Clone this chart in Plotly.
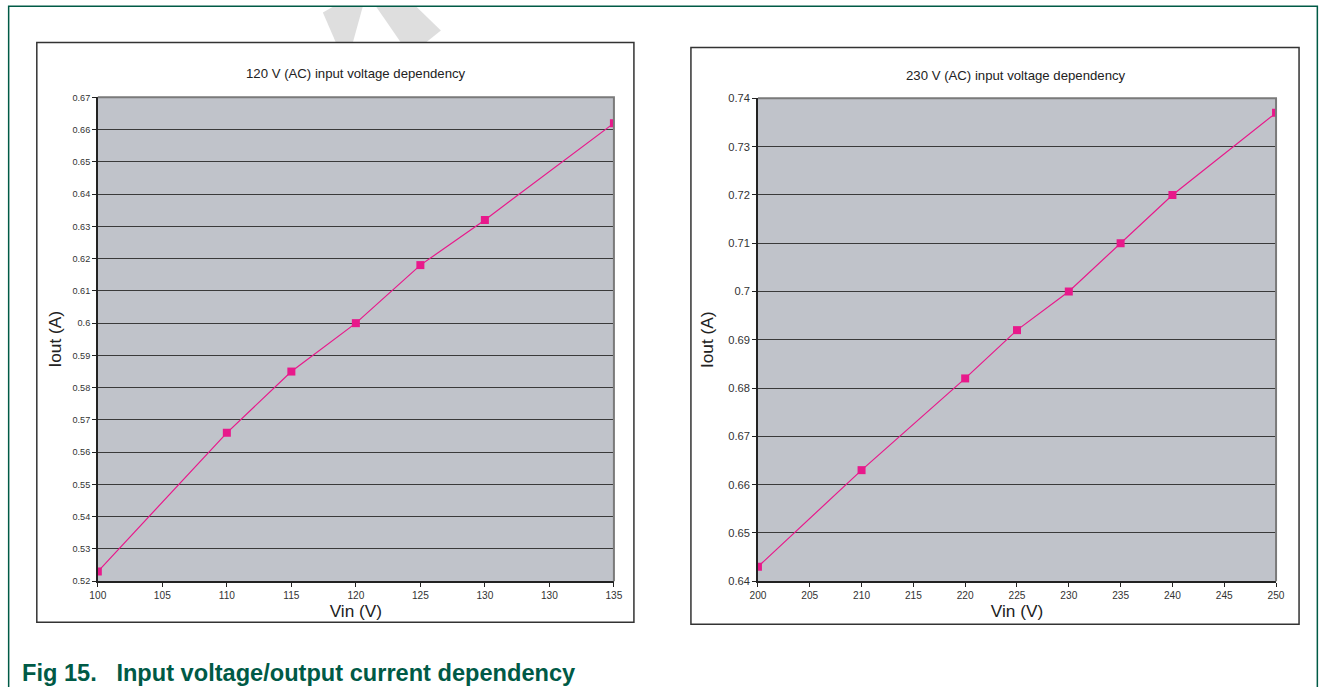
import plotly.graph_objects as go

W, H = 1327, 693

# ---- data ----
left_tick_vals = [100, 105, 110, 115, 120, 125, 130, 135, 140]
left_tick_labels = ["100", "105", "110", "115", "120", "125", "130", "130", "135"]
left_vin = [100, 110, 115, 120, 125, 130, 140]   # positions on the (quirky) axis
left_iout = [0.523, 0.566, 0.585, 0.600, 0.618, 0.632, 0.662]
left_y_ticks = [0.52, 0.53, 0.54, 0.55, 0.56, 0.57, 0.58, 0.59, 0.60, 0.61,
                0.62, 0.63, 0.64, 0.65, 0.66, 0.67]
left_y_labels = ["0.52", "0.53", "0.54", "0.55", "0.56", "0.57", "0.58", "0.59",
                 "0.6", "0.61", "0.62", "0.63", "0.64", "0.65", "0.66", "0.67"]

right_tick_vals = [200, 205, 210, 215, 220, 225, 230, 235, 240, 245, 250]
right_vin = [200, 210, 220, 225, 230, 235, 240, 250]
right_iout = [0.643, 0.663, 0.682, 0.692, 0.700, 0.710, 0.720, 0.737]
right_y_ticks = [0.64, 0.65, 0.66, 0.67, 0.68, 0.69, 0.70, 0.71, 0.72, 0.73, 0.74]
right_y_labels = ["0.64", "0.65", "0.66", "0.67", "0.68", "0.69", "0.7", "0.71",
                  "0.72", "0.73", "0.74"]

title_left = "120 V (AC) input voltage dependency"
title_right = "230 V (AC) input voltage dependency"
caption = "Fig 15.   Input voltage/output current dependency"

PINK = "#e8198b"
PLOT_BG = "#c0c3ca"
GRID = "#3a3a3a"
FONT = "Liberation Sans, Arial, sans-serif"
GREEN = "#005a46"

# compensation for how the page gets photographed
SX, OX = 0.987, 7.2
SY, OY = 0.983, 5.6
FS = 1 / 0.985


def px(x):
    v = (x - OX) / SX / W
    return min(max(v, 0.0005), 0.9995)


def py(y):
    v = 1 - (y - OY) / SY / H
    return min(max(v, 0.0005), 0.9995)


fig = go.Figure()
fig.add_trace(go.Scatter(x=left_vin, y=left_iout, mode="lines+markers",
                         line=dict(color=PINK, width=1.2),
                         marker=dict(symbol="square", size=8, color=PINK),
                         xaxis="x", yaxis="y", showlegend=False))
fig.add_trace(go.Scatter(x=right_vin, y=right_iout, mode="lines+markers",
                         line=dict(color=PINK, width=1.2),
                         marker=dict(symbol="square", size=8, color=PINK),
                         xaxis="x2", yaxis="y2", showlegend=False))

# plot areas (reference pixel positions)
L = dict(x0=97, x1=613, y0=97, y1=581)
R = dict(x0=757, x1=1275, y0=98, y1=581)

common_x = dict(showgrid=False, zeroline=False, showline=True, linecolor="#222",
                linewidth=1.5, ticks="outside", ticklen=4, tickcolor="#222",
                tickfont=dict(family=FONT, size=10 * FS, color="#333"),
                title_font=dict(family=FONT, size=17 * FS, color="#222"), title_standoff=3)
common_y = dict(showgrid=True, gridcolor=GRID, gridwidth=1, zeroline=False,
                showline=True, linecolor="#222", linewidth=1.5, ticks="outside",
                ticklen=4, tickcolor="#222",
                title_font=dict(family=FONT, size=17 * FS, color="#222"))

fig.update_layout(
    width=W, height=H, margin=dict(l=0, r=0, t=0, b=0),
    paper_bgcolor="white", plot_bgcolor=PLOT_BG,
    xaxis=dict(domain=[px(L["x0"]), px(L["x1"])], range=[100, 140],
               tickmode="array", tickvals=left_tick_vals, ticktext=left_tick_labels,
               title_text="Vin (V)", anchor="y", **common_x),
    yaxis=dict(domain=[py(L["y1"]), py(L["y0"])], range=[0.52, 0.67],
               tickmode="array", tickvals=left_y_ticks, ticktext=left_y_labels,
               tickfont=dict(family=FONT, size=9 * FS, color="#333"), title_standoff=6,
               title_text="Iout (A)", anchor="x", **common_y),
    xaxis2=dict(domain=[px(R["x0"]), px(R["x1"])], range=[200, 250],
                tickmode="array", tickvals=right_tick_vals,
                title_text="Vin (V)", anchor="y2", **common_x),
    yaxis2=dict(domain=[py(R["y1"]), py(R["y0"])], range=[0.64, 0.74],
                tickmode="array", tickvals=right_y_ticks, ticktext=right_y_labels,
                tickfont=dict(family=FONT, size=11 * FS, color="#333"), title_standoff=10,
                title_text="Iout (A)", anchor="x2", **common_y),
)

shapes = []
# faint watermark fragment (decoration)
shapes.append(dict(type="path", xref="paper", yref="paper",
                   path=f"M {px(322)} {py(12)} L {px(333)} {py(0)} L {px(362)} {py(0)} L {px(352)} {py(42)} L {px(335)} {py(42)} Z",
                   fillcolor="#dedede", line=dict(width=0), layer="below"))
shapes.append(dict(type="path", xref="paper", yref="paper",
                   path=f"M {px(375)} {py(0)} L {px(415)} {py(0)} L {px(440)} {py(30)} L {px(425)} {py(42)} L {px(400)} {py(42)} Z",
                   fillcolor="#dedede", line=dict(width=0), layer="below"))
# outer green frame
shapes.append(dict(type="path", xref="paper", yref="paper",
                   path=f"M {px(5)} 0 L {px(5)} {py(4)} L {px(1325)} {py(4)} L {px(1325)} 0",
                   line=dict(color=GREEN, width=1.5)))
# chart boxes
for (x0, y0, x1, y1) in [(36, 42, 633, 622), (690, 47, 1298, 624)]:
    shapes.append(dict(type="rect", xref="paper", yref="paper",
                       x0=px(x0), x1=px(x1), y0=py(y1), y1=py(y0),
                       line=dict(color="#333", width=1.5), layer="below"))
# grey top/right border of plot areas
for P in (L, R):
    shapes.append(dict(type="path", xref="paper", yref="paper",
                       path=f"M {px(P['x0'])} {py(P['y0'])} L {px(P['x1'])} {py(P['y0'])} L {px(P['x1'])} {py(P['y1'])}",
                       line=dict(color="#7a7a7a", width=2)))
fig.update_layout(shapes=shapes)

fig.add_annotation(text=title_left, xref="paper", yref="paper", x=px(355), y=py(73),
                   xanchor="center", yanchor="middle",
                   showarrow=False, font=dict(family=FONT, size=13 * FS, color="#222"))
fig.add_annotation(text=title_right, xref="paper", yref="paper", x=px(1015), y=py(75),
                   xanchor="center", yanchor="middle",
                   showarrow=False, font=dict(family=FONT, size=13 * FS, color="#222"))
fig.add_annotation(text="<b>" + caption.replace("   ", "&nbsp;&nbsp;&nbsp;") + "</b>",
                   xref="paper", yref="paper", x=px(19), y=py(673), xanchor="left",
                   yanchor="middle",
                   showarrow=False, font=dict(family=FONT, size=23.6, color=GREEN))

fig.write_html("out.html", config={"displayModeBar": False},
               post_script="document.body.style.margin='0';document.body.style.overflow='hidden';")
